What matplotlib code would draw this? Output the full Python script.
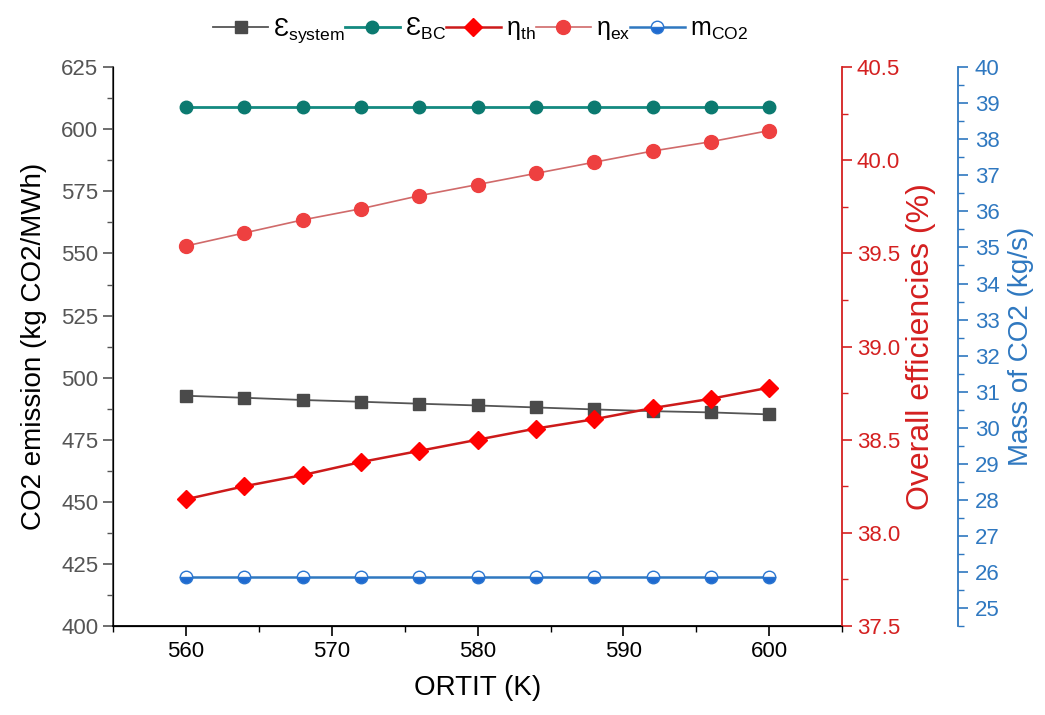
import numpy as np
import matplotlib
matplotlib.use('Agg')
import matplotlib.pyplot as plt
from matplotlib.ticker import MultipleLocator, FormatStrFormatter

plt.rcParams['font.family'] = ['Liberation Sans', 'DejaVu Sans']
plt.rcParams['mathtext.fontset'] = 'custom'
plt.rcParams['mathtext.rm'] = 'Liberation Sans'

# --- data ---
ortit = [560, 564, 568, 572, 576, 580, 584, 588, 592, 596, 600]
eps_system = [492.7, 491.9, 491.0, 490.3, 489.5, 488.8, 488.0, 487.2, 486.5, 486.0, 485.2]   # left axis
eps_bc = [609, 609, 609, 609, 609, 609, 609, 609, 609, 609, 609]                             # left axis
eta_th = [38.18, 38.25, 38.31, 38.38, 38.44, 38.50, 38.56, 38.61, 38.67, 38.72, 38.78]       # red axis
eta_ex = [39.54, 39.61, 39.68, 39.74, 39.81, 39.87, 39.93, 39.99, 40.05, 40.10, 40.16]       # red axis
m_co2 = [25.85, 25.85, 25.85, 25.85, 25.85, 25.85, 25.85, 25.85, 25.85, 25.85, 25.85]        # blue axis

red = '#d42020'
blue = '#2f78c0'

fig = plt.figure(figsize=(10.45, 7.15), dpi=100)
ax = fig.add_axes([0.108, 0.1245, 0.698, 0.7815])
ax2 = ax.twinx()
ax3 = ax.twinx()
ax3.spines['right'].set_position(('axes', 1.159))

# left axis
l1, = ax.plot(ortit, eps_system, color='#555555', marker='s', ms=9, mfc='#4a4a4a', mec='#4a4a4a',
              lw=1.3, label='Ɛ$_{\\mathrm{system}}$')
l2, = ax.plot(ortit, eps_bc, color='#138a80', marker='o', ms=9, mfc='#0b7a70', mec='#0b7a70',
              lw=2, label='Ɛ$_{\\mathrm{BC}}$')
ax.set_xlim(555, 605)
ax.set_ylim(400, 625)
ax.yaxis.set_major_locator(MultipleLocator(25))
ax.yaxis.set_minor_locator(MultipleLocator(12.5))
ax.xaxis.set_major_locator(MultipleLocator(10))
ax.xaxis.set_minor_locator(MultipleLocator(5))
ax.set_xlabel('ORTIT (K)', fontsize=20, labelpad=10)
ax.set_ylabel('CO2 emission (kg CO2/MWh)', fontsize=20, labelpad=10)
ax.tick_params(axis='y', which='both', colors='#555555', labelsize=16, direction='out')
ax.tick_params(axis='x', which='both', colors='black', labelsize=16, direction='out')
ax.tick_params(which='major', length=7, width=1.2)
ax.tick_params(which='minor', length=4, width=1)
ax.spines['left'].set_color('#555555')
ax.spines['left'].set_linewidth(1.3)
ax.spines['bottom'].set_linewidth(1.3)
for a in (ax, ax2, ax3):
    a.spines['top'].set_visible(False)
ax.spines['right'].set_visible(False)

# red axis
l3, = ax2.plot(ortit, eta_th, color='#cc1a1a', marker='D', ms=9, mfc='#ff0000', mec='#ff0000',
               lw=1.8, label='η$_{\\mathrm{th}}$')
l4, = ax2.plot(ortit, eta_ex, color='#d06a6a', marker='o', ms=10, mfc='#ee4040', mec='#ee4040',
               lw=1.2, label='η$_{\\mathrm{ex}}$')
ax2.set_ylim(37.5, 40.5)
ax2.yaxis.set_major_locator(MultipleLocator(0.5))
ax2.yaxis.set_minor_locator(MultipleLocator(0.25))
ax2.yaxis.set_major_formatter(FormatStrFormatter('%.1f'))
ax2.spines['right'].set_color(red)
ax2.spines['right'].set_linewidth(1.3)
ax2.tick_params(axis='y', which='both', colors=red, labelsize=16)
ax2.tick_params(which='major', length=7, width=1.2)
ax2.tick_params(which='minor', length=4, width=1)
ax2.set_ylabel('Overall efficiencies (%)', color=red, fontsize=23, labelpad=4)

# blue axis
l5, = ax3.plot(ortit, m_co2, color=blue, marker='o', ms=9, fillstyle='bottom', mfc='#1f6ad0',
               mfcalt='white', mec='#2a75d0', lw=1.8, label='m$_{\\mathrm{CO2}}$')
ax3.set_ylim(24.5, 40)
ax3.yaxis.set_major_locator(MultipleLocator(1))
ax3.yaxis.set_minor_locator(MultipleLocator(0.5))
ax3.spines['right'].set_color(blue)
ax3.spines['right'].set_linewidth(1.3)
ax3.tick_params(axis='y', which='both', colors=blue, labelsize=16)
ax3.tick_params(which='major', length=7, width=1.2, pad=5)
ax3.tick_params(which='minor', length=4, width=1)
ax3.set_ylabel('Mass of CO2 (kg/s)', color=blue, fontsize=20, labelpad=6)

for a in (ax2, ax3):
    a.set_zorder(ax.get_zorder() + 1)
    a.patch.set_visible(False)

fig.legend(handles=[l1, l2, l3, l4, l5], loc='upper center', bbox_to_anchor=(0.46, 1.01),
           ncol=5, frameon=False, fontsize=18, handlelength=2.2, handletextpad=0.2,
           columnspacing=0.0)

fig.savefig('out.png', dpi=100)
